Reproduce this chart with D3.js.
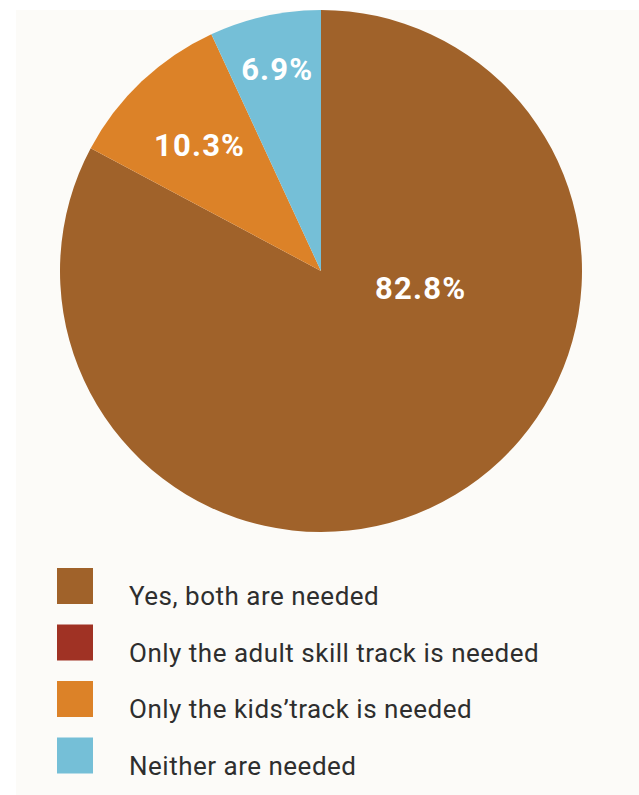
<!DOCTYPE html>
<html>
<head>
<meta charset="utf-8">
<script src="https://cdn.jsdelivr.net/npm/d3@7"></script>
<style>
  html, body { margin: 0; padding: 0; background: #ffffff; }
  svg { display: block; }
</style>
</head>
<body>
<svg id="chart" width="639" height="795"></svg>
<script>
// ---- data ----
const categories = [
  "Yes, both are needed",
  "Only the adult skill track is needed",
  "Only the kids\u2019track is needed",
  "Neither are needed"
];
const values = [82.8, 0, 10.3, 6.9];
const valueLabels = ["82.8%", "", "10.3%", "6.9%"];
const colors = ["#a0622a", "#a03224", "#dc8228", "#75bfd7"];

// ---- layout ----
const W = 639, H = 795;
const cx = 321, cy = 271, R = 261;
const svg = d3.select("#chart");

svg.append("rect").attr("x", 16).attr("y", 10).attr("width", W - 16).attr("height", H - 10)
  .attr("fill", "#fcfbf8");

const pie = d3.pie().sort(null).value(d => d.v)(values.map((v, i) => ({v, i})));
const arc = d3.arc().innerRadius(0).outerRadius(R);

const g = svg.append("g").attr("transform", `translate(${cx},${cy})`);
g.selectAll("path.slice").data(pie).join("path")
  .attr("class", "slice")
  .attr("d", arc)
  .attr("fill", d => colors[d.data.i]);

// label placement (angle offset in radians from mid-angle, radius fraction)
const labelPlace = [
  {da: -0.86, rf: 0.385},
  {da: 0, rf: 0.5},
  {da: -0.015, rf: 0.67},
  {da: 0.0, rf: 0.79}
];
g.selectAll("text.val").data(pie.filter(d => d.data.v > 0)).join("text")
  .attr("class", "val")
  .attr("x", d => { const p = labelPlace[d.data.i]; const a = (d.startAngle + d.endAngle) / 2 + p.da; return Math.sin(a) * R * p.rf + 0.6; })
  .attr("y", d => { const p = labelPlace[d.data.i]; const a = (d.startAngle + d.endAngle) / 2 + p.da; return -Math.cos(a) * R * p.rf; })
  .attr("dy", "0.34em")
  .attr("text-anchor", "middle")
  .attr("fill", "#ffffff")
  .attr("font-family", "Roboto, 'Open Sans', sans-serif")
  .attr("font-weight", 700)
  .attr("font-size", 31)
  .attr("letter-spacing", 1.2)
  .text(d => valueLabels[d.data.i]);

// legend
const legY = d3.scaleBand().domain(d3.range(categories.length)).range([568, 794]).paddingInner(0);
const leg = svg.append("g");
const items = leg.selectAll("g.item").data(categories).join("g").attr("class", "item")
  .attr("transform", (d, i) => `translate(57,${legY(i)})`);
items.append("rect").attr("width", 36).attr("height", 36).attr("fill", (d, i) => colors[i]);
items.append("text")
  .attr("x", 72).attr("y", 37)
  .attr("fill", "#2e2e2e")
  .attr("font-family", "Roboto, 'Open Sans', sans-serif")
  .attr("font-size", 26)
  .attr("letter-spacing", 0.5)
  .text(d => d);
</script>
</body>
</html>
